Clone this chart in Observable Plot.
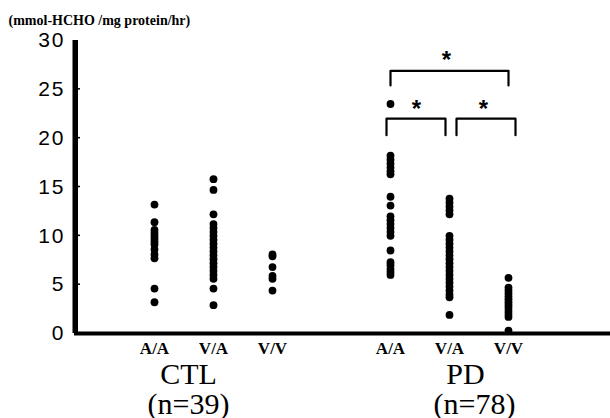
<!DOCTYPE html>
<html><head><meta charset="utf-8">
<script src="https://cdn.jsdelivr.net/npm/d3@7"></script>
<script src="https://cdn.jsdelivr.net/npm/@observablehq/plot@0.6"></script>
<style>
body{margin:0;background:#fff}
#chart svg{display:block}
#chart g[aria-label="y-axis tick label"] text{letter-spacing:2px}
</style>
</head><body><div id="chart"></div>
<script>
// ---- data ----
const groups = ["CTL", "PD"];
const genotypes = ["A/A", "V/A", "V/V"];
const groupN = ["(n=39)", "(n=78)"];
const yTicks = [0, 5, 10, 15, 20, 25, 30];
const title = "(mmol-HCHO /mg protein/hr)";

const ctlAA = [13.2, 11.4, 10.6, 10.3, 10.0, 9.7, 9.4, 9.1, 8.6, 8.1, 7.7, 4.6, 3.2];
const ctlVA = [15.8, 14.7, 12.2, 11.2, 10.8, 10.4, 10.0, 9.6, 9.2, 8.8, 8.4, 8.0, 7.6, 7.2, 6.8, 6.4, 6.0, 5.6, 4.6, 2.9];
const ctlVV = [8.1, 7.9, 6.8, 5.9, 5.6, 4.4];
const pdAA = [23.5, 18.2, 17.8, 17.4, 17.0, 16.6, 16.3, 14.0, 13.1, 12.0, 11.6, 11.2, 10.8, 10.4, 10.0, 8.5, 7.3, 7.0, 6.6, 6.3, 6.0];
const pdVA = [13.8, 13.4, 13.0, 12.6, 12.2, 10.0, 9.6, 9.2, 8.8, 8.4, 8.0, 7.6, 7.2, 6.8, 6.4, 6.0, 5.6, 5.2, 4.8, 4.4, 4.0, 3.7, 1.9];
const pdVV = [5.7, 4.7, 4.4, 4.1, 3.8, 3.5, 3.2, 2.9, 2.6, 2.3, 2.0, 1.7, 0.3];

// significance comparisons (PD)
const compFrom = ["PD A/A", "PD A/A", "PD V/A"];
const compTo = ["PD V/V", "PD V/A", "PD V/V"];
const compTop = [26.9, 22.0, 22.0];
const compBottom = [25.4, 20.3, 20.3];
const compLabel = ["*", "*", "*"];
const starLevel = [27.2, 22.2, 22.2];

// ---- build tables ----
const series = [[ctlAA, ctlVA, ctlVV], [pdAA, pdVA, pdVV]];
const points = [];
groups.forEach((g, gi) => genotypes.forEach((gt, ti) =>
  series[gi][ti].forEach(v => points.push({key: `${g} ${gt}`, value: v}))));

const domain = [...genotypes.map(t => `CTL ${t}`), "gap", ...genotypes.map(t => `PD ${t}`)];
const marginLeft = 74;
const xRange = [152, 510];

const bracketDx = [0, -4, 7];
const bracketMarks = compFrom.map((f, i) => Plot.line([
  {x: f, y: compBottom[i]}, {x: f, y: compTop[i]},
  {x: compTo[i], y: compTop[i]}, {x: compTo[i], y: compBottom[i]}
], {x: "x", y: "y", stroke: "black", strokeWidth: 2.2, dx: bracketDx[i], curve: "linear"}));

const starX = ["PD V/A", "PD A/A", "PD V/A"];
const starDx = [-3, 26, 34];
const starMarks = compLabel.map((s, i) => Plot.text([s], {
  x: () => starX[i], y: () => starLevel[i], text: d => d, dx: starDx[i],
  lineAnchor: "bottom", fontSize: 24, fontWeight: "bold", fontFamily: "Liberation Sans", fill: "black"
}));

// y axis line with small inward ticks, positioned by the y scale
function yAxisLine(index, scales, values, dimensions) {
  const y = scales.y;
  const x0 = dimensions.marginLeft;
  const g = d3.create("svg:g").attr("aria-label", "y-axis line");
  g.append("line").attr("x1", x0).attr("x2", x0)
    .attr("y1", y(0)).attr("y2", y(30)).attr("stroke", "#000").attr("stroke-width", 3);
  g.selectAll("line.t").data(yTicks.filter(t => t > 0 && t < 30)).join("line").attr("class", "t")
    .attr("x1", x0).attr("x2", x0 + 6)
    .attr("y1", d => y(d)).attr("y2", d => y(d)).attr("stroke", "#000").attr("stroke-width", 1.5);
  return g.node();
}

const serif = "Liberation Serif";

const chart = Plot.plot({
  width: 610,
  height: 418,
  marginLeft,
  marginRight: 0,
  marginTop: 40,
  marginBottom: 85,
  x: {type: "point", domain, range: xRange, padding: 0},
  y: {domain: [0, 30], range: [333, 40]},
  marks: [
    Plot.axisY({ticks: yTicks, tickSize: 0, tickPadding: 9, tickFormat: d => String(d), label: null,
      fontSize: 21, fontFamily: "Liberation Sans"}),
    Plot.axisX({tickSize: 0, tickPadding: 8, label: null,
      tickFormat: d => d === "gap" ? "" : d.split(" ")[1],
      fontSize: 17, fontWeight: "bold", fontFamily: serif}),
    Plot.dot(points, {x: "key", y: "value", r: 3.9, fill: "black"}),
    ...bracketMarks,
    ...starMarks,
    Plot.text([title], {frameAnchor: "top-left", text: d => d, dx: -66, dy: -16, textAnchor: "start",
      lineAnchor: "bottom", fontSize: 14, fontWeight: "bold", fontFamily: serif}),
    Plot.text([groups[0]], {x: () => "CTL V/A", frameAnchor: "bottom", text: d => d, dx: -25, dy: 50,
      lineAnchor: "bottom", fontSize: 30, fontFamily: serif}),
    Plot.text([groupN[0]], {x: () => "CTL V/A", frameAnchor: "bottom", text: d => d, dx: -25, dy: 80,
      lineAnchor: "bottom", fontSize: 30, fontFamily: serif}),
    Plot.text([groups[1]], {x: () => "PD V/A", frameAnchor: "bottom", text: d => d, dx: 16, dy: 50,
      lineAnchor: "bottom", fontSize: 30, fontFamily: serif}),
    Plot.text([groupN[1]], {x: () => "PD V/A", frameAnchor: "bottom", text: d => d, dx: 25, dy: 80,
      lineAnchor: "bottom", fontSize: 30, fontFamily: serif}),
    Plot.ruleY([0], {stroke: "black", strokeWidth: 4}),
    Plot.ruleX([domain[0]], {x: d => d, y1: 0, y2: 30, stroke: "black", strokeWidth: 3, dx: marginLeft - xRange[0]}),
    yAxisLine
  ]
});
document.getElementById("chart").appendChild(chart);
</script>
</body></html>
